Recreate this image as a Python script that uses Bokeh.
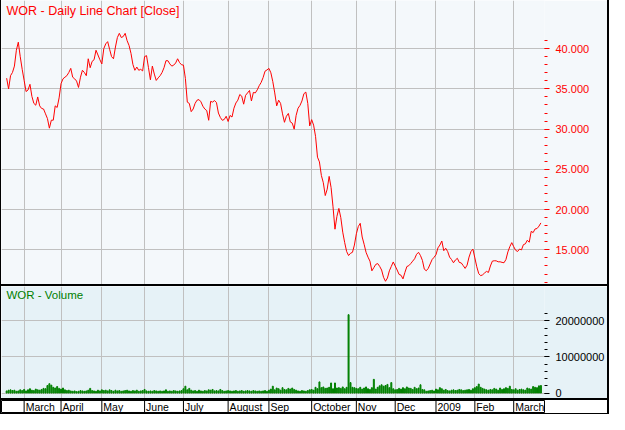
import math
from bokeh.plotting import figure
from bokeh.layouts import column, row
from bokeh.models import (FixedTicker, SingleIntervalTicker, NumeralTickFormatter,
                          Label, Spacer, Range1d)
from bokeh.embed import file_html
from bokeh.resources import INLINE
from bokeh.core.properties import value

symbol = "WOR"

# Daily close (AUD), trading days 19 Feb 2008 .. 20 Mar 2009
close = [
    36.33, 35.00, 36.64, 37.04, 37.83, 39.80, 40.80, 39.00, 37.43, 36.05,
    34.67, 34.86, 35.57, 34.07, 33.20, 32.97, 34.00, 32.89, 32.57, 32.50,
    31.90, 31.31, 30.12, 31.11, 31.11, 32.89, 32.69, 33.88, 35.65, 36.25,
    36.45, 36.64, 37.04, 37.55, 36.45, 36.25, 35.97, 35.18, 36.45, 37.31,
    37.04, 36.64, 38.74, 37.63, 38.42, 38.62, 39.80, 39.21, 38.62, 38.10,
    40.00, 40.59, 40.87, 39.92, 39.01, 38.74, 40.20, 41.38, 41.90, 41.38,
    41.50, 41.90, 40.99, 40.40, 39.41, 38.02, 37.31, 37.71, 37.31, 37.43,
    37.23, 39.01, 39.13, 37.63, 36.13, 37.83, 36.84, 36.05, 36.37, 36.64,
    37.04, 37.63, 38.50, 38.50, 38.10, 37.83, 37.95, 38.22, 38.74,
    38.27, 38.00, 37.95, 36.30, 33.35, 33.20, 32.17, 32.50, 33.20, 33.60, 33.67,
    33.40, 32.85, 32.50, 32.30, 31.10, 33.45, 33.36, 33.55, 33.30, 32.00,
    31.45, 31.10, 31.20, 31.60, 30.95, 31.70, 31.50, 32.60, 33.25, 33.60,
    34.30, 34.10, 33.10, 34.20, 34.50, 34.80, 33.50, 34.56, 34.50, 34.88,
    35.40, 35.80, 36.40, 37.20, 37.35,
    37.55, 37.00, 35.90, 34.50, 32.89, 33.60, 33.20, 31.90, 30.85, 31.60,
    31.95, 30.90, 30.75, 30.00, 31.70, 32.60, 32.95, 33.50, 34.40, 34.60, 33.20, 30.40,
    31.18, 30.50, 29.11, 26.52, 25.93, 24.25, 23.34, 21.75, 22.54, 24.13,
    22.74, 20.35, 17.57, 19.16, 20.15, 19.00, 17.20, 15.90, 14.80, 14.30,
    14.58, 14.70, 15.60, 17.00, 17.90, 18.30,
    16.60, 15.70, 14.70, 14.10, 13.60, 12.40, 12.80, 13.20, 13.30, 12.95,
    12.50, 11.60, 11.10, 11.50, 12.40, 12.95, 13.50, 13.00, 12.50, 11.95,
    11.85, 11.40, 12.20, 12.93, 13.04, 13.30, 13.60, 13.90, 14.45, 14.70,
    14.30, 13.70, 12.60, 12.41, 12.70, 13.25, 13.80, 14.08, 14.40, 15.25,
    15.60, 16.10, 14.90, 15.20, 14.80,
    14.10, 13.80, 13.40, 13.75, 13.95, 13.44, 13.38, 13.05, 12.70, 13.10,
    14.10, 14.80, 15.10, 14.00, 12.90, 12.05, 11.80, 11.90, 12.13, 12.33,
    12.20, 13.00, 13.60, 13.65, 13.64, 13.52, 13.52, 13.45, 13.40, 13.80,
    14.75, 15.40, 15.90, 15.40, 14.95, 14.80, 15.10, 15.00, 15.65, 15.75,
    16.20, 15.95, 17.30, 17.15, 17.60, 17.65, 17.95, 18.35,
]

# Daily volume, millions of shares
volume_m = [
    0.6, 0.8, 0.9, 0.7, 0.8, 0.5, 0.6, 0.9, 0.7, 1.0,
    0.6, 0.9, 1.2, 0.8, 0.7, 1.1, 0.9, 0.8, 1.0, 1.3,
    1.2, 2.1, 2.6, 2.2, 1.6, 1.4, 1.8, 1.3, 1.1, 1.4,
    0.9, 0.7, 0.8, 0.6, 0.5, 0.6, 0.4, 0.5, 0.7, 0.6,
    0.5, 0.6, 0.8, 1.3, 0.7, 0.6, 0.5, 0.8, 0.6, 0.9,
    0.7, 0.8, 0.6, 0.9, 0.7, 0.5, 0.8, 0.6, 0.7, 0.5,
    0.6, 0.7, 0.8, 0.6, 0.5, 0.7, 0.6, 0.8, 0.5, 0.6,
    0.7, 1.0, 0.6, 0.5, 0.6, 0.5, 0.7, 0.6, 0.5, 0.6,
    0.5, 0.6, 0.9, 0.5, 0.6, 0.5, 0.7, 0.6, 0.5, 0.6,
    0.7, 1.2, 1.9, 0.9, 1.3, 0.8, 0.6, 0.7, 0.5, 0.8,
    0.6, 0.5, 0.7, 0.6, 0.9, 0.8, 1.0, 0.6, 0.7, 0.6,
    1.0, 0.7, 0.5, 0.6, 0.7, 0.6, 0.5, 0.6, 0.7, 0.5,
    0.6, 0.7, 0.5, 0.6, 0.7, 0.6, 0.5, 0.7, 0.6, 0.5,
    0.6, 0.5, 0.6, 0.7, 0.5, 0.8, 1.1, 1.9, 0.9, 1.4,
    1.2, 0.8, 1.5, 1.0, 0.9, 1.3, 1.1, 1.4, 1.0, 0.8,
    0.6, 0.5, 0.7, 0.6, 0.5, 0.7, 0.9, 1.0, 0.8, 1.6,
    1.2, 3.1, 1.5, 1.7, 1.3, 1.4, 1.6, 2.8, 1.2, 2.8,
    1.4, 1.5, 1.3, 1.7, 1.2, 1.6, 21.7, 2.9, 1.6, 1.5,
    1.3, 1.2, 1.6, 1.1, 1.4, 1.7, 1.2, 1.0, 1.5, 3.8,
    1.1, 1.6, 2.0, 2.3, 1.9, 2.1, 2.4, 1.5, 2.9, 1.2,
    0.9, 1.0, 1.3, 1.1, 1.5, 1.2, 1.7, 1.4, 1.3, 1.0,
    1.6, 1.2, 1.4, 2.3, 1.0, 0.9, 0.5, 0.6, 0.7, 0.8,
    0.6, 1.1, 0.9, 1.5, 1.2, 0.8, 1.0, 0.7, 0.6, 0.8,
    0.9, 0.7, 0.8, 1.0, 0.9, 0.7, 0.8, 0.9, 1.0, 0.8,
    1.2, 1.5, 1.8, 2.5, 1.6, 1.3, 1.1, 0.9, 0.8, 1.0,
    0.9, 1.3, 1.1, 0.8, 1.4, 1.0, 1.2, 1.5, 1.3, 1.9,
    1.0, 0.9, 1.2, 0.8, 1.0, 1.1, 0.9, 0.8, 1.4, 1.2,
    1.1, 1.8, 1.6, 1.5, 2.0, 2.1,
]

month_labels = ["March", "April", "May", "June", "July", "August", "Sep",
                "October", "Nov", "Dec", "2009", "Feb", "March"]
month_start_idx = [9, 28, 49, 71, 91, 114, 135, 157, 180, 200, 221, 241, 261]

days = list(range(len(close)))
volume = [v * 1e6 for v in volume_m]

FONT = "Liberation Sans"
GRID = "#c0c0c0"
PRICE_BG = "#f4f8fb"
VOL_BG = "#e6f2f7"
W = 606
RB = 61

xr = Range1d(-2.65, len(close) - 1 + 1.85)

# ---------------- price panel ----------------
p1 = figure(width=W, height=284, x_range=xr, y_range=Range1d(10.70, 45.98),
            y_axis_location="right", x_axis_location=None,
            toolbar_location=None, output_backend="svg",
            min_border_left=0, min_border_right=RB, min_border_top=0, min_border_bottom=0,
            background_fill_color=PRICE_BG, border_fill_color=PRICE_BG,
            outline_line_color=None)
p1.line(days, close, color="#ff0000", line_width=1)
ya = p1.yaxis[0]
ya.ticker = SingleIntervalTicker(interval=5, num_minor_ticks=5)
ya.bounds = (math.floor(min(close)), math.floor(max(close)))
ya.formatter = NumeralTickFormatter(format="0.000")
ya.axis_line_color = None
ya.major_tick_line_color = "#ff0000"
ya.minor_tick_line_color = "#ff0000"
ya.major_tick_out = 5
ya.major_tick_in = 0
ya.minor_tick_out = 3
ya.minor_tick_in = 0
ya.major_label_standoff = 6
ya.major_label_text_color = "#ff0000"
ya.major_label_text_font = FONT
ya.major_label_text_font_size = "11px"
p1.xgrid.ticker = FixedTicker(ticks=month_start_idx)
p1.grid.grid_line_color = GRID
p1.add_layout(Label(x=xr.start, y=45.98, x_offset=5, y_offset=-3,
                    text=f"{symbol} - Daily Line Chart [Close]", text_baseline="top",
                    text_color="#ff0000", text_font=FONT, text_font_size="12.5px"))

# ---------------- volume panel ----------------
p2 = figure(width=W, height=112, x_range=xr, y_range=Range1d(-1.5e6, 29.5e6),
            y_axis_location="right", x_axis_location=None,
            toolbar_location=None, output_backend="svg",
            min_border_left=0, min_border_right=RB, min_border_top=0, min_border_bottom=0,
            background_fill_color=VOL_BG, border_fill_color=VOL_BG,
            outline_line_color=None)
p2.vbar(x=days, top=volume, bottom=0, width=0.5, color="#008000")
va = p2.yaxis[0]
va.ticker = SingleIntervalTicker(interval=10e6, num_minor_ticks=5)
va.bounds = (0, math.ceil(max(volume) / 2e6) * 2e6)
va.formatter = NumeralTickFormatter(format="0")
va.axis_line_color = None
va.major_tick_line_color = "black"
va.minor_tick_line_color = "black"
va.major_tick_out = 5
va.major_tick_in = 0
va.minor_tick_out = 3
va.minor_tick_in = 0
va.major_label_standoff = 6
va.major_label_text_color = "black"
va.major_label_text_font = FONT
va.major_label_text_font_size = "11px"
p2.xgrid.ticker = FixedTicker(ticks=month_start_idx)
p2.grid.grid_line_color = GRID
p2.add_layout(Label(x=xr.start, y=29.5e6, x_offset=5, y_offset=-2,
                    text=f"{symbol} - Volume", text_baseline="top",
                    text_color="#008000", text_font=FONT, text_font_size="11.5px"))

# ---------------- date strip ----------------
p3 = figure(width=W, height=13, x_range=xr, y_range=Range1d(0, 1),
            x_axis_location=None, y_axis_location=None,
            toolbar_location=None, output_backend="svg",
            min_border_left=0, min_border_right=RB, min_border_top=0, min_border_bottom=0,
            background_fill_color="white", border_fill_color="white",
            outline_line_color="black")
p3.grid.visible = False
p3.segment(x0=month_start_idx, y0=0, x1=month_start_idx, y1=1, color="black", line_width=1)
p3.text(x=month_start_idx, y=[0.5] * len(month_start_idx), text=month_labels,
        x_offset=1.5, text_baseline="middle", text_align="left",
        text_font=value(FONT), text_font_size="10.5px", text_color="black")


def bar(w, h):
    return Spacer(width=w, height=h, styles={"background-color": "black"})


content = column(p1, bar(W, 2), p2, bar(W, 2), p3, bar(W, 1), spacing=0)
layout = row(bar(1, 414), content, bar(2, 414), spacing=0)

open("out.html", "w").write(file_html(layout, INLINE))
